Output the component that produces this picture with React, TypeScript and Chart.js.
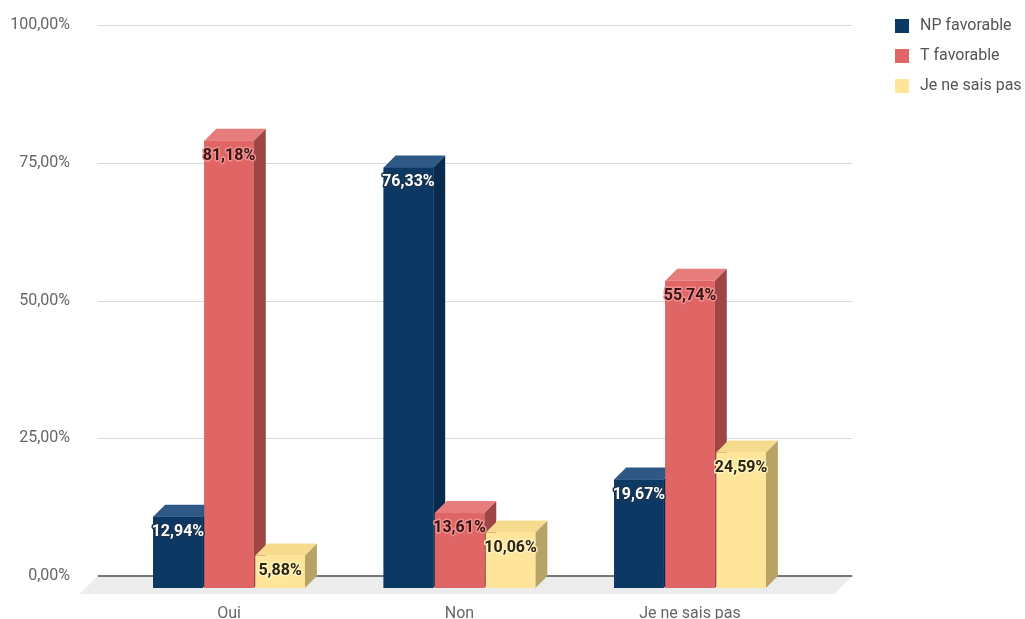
import React, { useEffect, useRef } from "react";
import { Chart, registerables } from "chart.js";

Chart.register(...registerables);

const categories = ["Oui", "Non", "Je ne sais pas"];
const seriesNames = ["NP favorable", "T favorable", "Je ne sais pas"];
const npFavorable = [12.94, 76.33, 19.67];
const tFavorable = [81.18, 13.61, 55.74];
const jeNeSaisPas = [5.88, 10.06, 24.59];
const yTickStep = 25;
const yMax = 100;

const DEPTH = 12;
const FONT = "Roboto, 'Noto Sans', Arial, sans-serif";

const palettes = [
  { front: "#0c3864", top: "#2e5986", side: "#082a4c", text: "#ffffff", halo: "#1b3452" },
  { front: "#e06666", top: "#e67c7c", side: "#9e4646", text: "#3a1414", halo: "#ee9090" },
  { front: "#ffe599", top: "#f6db8f", side: "#b8a366", text: "#2a2410", halo: "#fff2c0" },
];

const fmt = (v: number) => v.toFixed(2).replace(".", ",") + "%";

const threeD = {
  id: "threeD",
  beforeDatasetsDraw(chart: any) {
    const { ctx, chartArea } = chart;
    const y = chart.scales.y;
    const gl = chartArea.left - 28;
    const gr = chartArea.right + 35;
    const zero = y.getPixelForValue(0);
    ctx.save();
    // floor
    ctx.fillStyle = "#ececec";
    ctx.beginPath();
    ctx.moveTo(gl + DEPTH, zero - DEPTH);
    ctx.lineTo(gr + DEPTH, zero - DEPTH);
    ctx.lineTo(gr - 6, zero + 6);
    ctx.lineTo(gl - 6, zero + 6);
    ctx.closePath();
    ctx.fill();
    // grid lines on back wall
    y.ticks.forEach((t: any) => {
      if (t.value === 0) return;
      const py = Math.round(y.getPixelForValue(t.value) - DEPTH) + 0.5;
      ctx.strokeStyle = "#d9d9d9";
      ctx.lineWidth = 1;
      ctx.beginPath();
      ctx.moveTo(gl + DEPTH, py);
      ctx.lineTo(gr + DEPTH, py);
      ctx.stroke();
    });
    const pz = zero - DEPTH;
    ctx.strokeStyle = "#777777";
    ctx.lineWidth = 2;
    ctx.beginPath();
    ctx.moveTo(gl + DEPTH, pz);
    ctx.lineTo(gr + DEPTH, pz);
    ctx.stroke();
    ctx.restore();
  },
  afterDatasetsDraw(chart: any) {
    const { ctx } = chart;
    const n = chart.data.labels.length;
    ctx.save();
    for (let c = 0; c < n; c++) {
      chart.data.datasets.forEach((ds: any, di: number) => {
        const el = chart.getDatasetMeta(di).data[c];
        const p = palettes[di];
        const l = el.x - el.width / 2;
        const r = el.x + el.width / 2;
        const top = el.y;
        const bot = el.base;
        // side
        ctx.fillStyle = p.side;
        ctx.beginPath();
        ctx.moveTo(r, top);
        ctx.lineTo(r + DEPTH, top - DEPTH);
        ctx.lineTo(r + DEPTH, bot - DEPTH);
        ctx.lineTo(r, bot);
        ctx.closePath();
        ctx.fill();
        // top
        ctx.fillStyle = p.top;
        ctx.beginPath();
        ctx.moveTo(l, top);
        ctx.lineTo(l + DEPTH, top - DEPTH);
        ctx.lineTo(r + DEPTH, top - DEPTH);
        ctx.lineTo(r, top);
        ctx.closePath();
        ctx.fill();
        // front
        ctx.fillStyle = p.front;
        ctx.fillRect(l, top, r - l, bot - top);
      });
    }
    // labels
    ctx.font = `bold 16px ${FONT}`;
    ctx.textAlign = "center";
    ctx.textBaseline = "middle";
    ctx.lineJoin = "round";
    for (let c = 0; c < n; c++) {
      chart.data.datasets.forEach((ds: any, di: number) => {
        const el = chart.getDatasetMeta(di).data[c];
        const p = palettes[di];
        const txt = fmt(ds.data[c]);
        const tx = el.x;
        const ty = el.y + 15;
        ctx.strokeStyle = p.halo;
        ctx.lineWidth = 3;
        ctx.strokeText(txt, tx, ty);
        ctx.fillStyle = p.text;
        ctx.fillText(txt, tx, ty);
      });
    }
    ctx.restore();
  },
  afterDraw(chart: any) {
    const { ctx } = chart;
    ctx.save();
    ctx.font = `16px ${FONT}`;
    ctx.textBaseline = "middle";
    ctx.textAlign = "left";
    chart.data.datasets.forEach((ds: any, di: number) => {
      const cy = 26 + di * 30;
      ctx.fillStyle = palettes[di].front;
      ctx.fillRect(895, cy - 7, 14, 14);
      ctx.fillStyle = "#555555";
      ctx.fillText(ds.label, 920, cy);
    });
    ctx.restore();
  },
};

export default function App() {
  const ref = useRef<HTMLCanvasElement | null>(null);
  useEffect(() => {
    document.body.style.margin = "0";
    const canvas = ref.current;
    if (!canvas) return;
    const seriesData = [npFavorable, tFavorable, jeNeSaisPas];
    const chart = new Chart(canvas, {
      type: "bar",
      data: {
        labels: categories,
        datasets: seriesNames.map((name, i) => ({
          label: name,
          data: seriesData[i],
          backgroundColor: palettes[i].front,
          borderWidth: 0,
          barPercentage: 0.97,
          categoryPercentage: 0.665,
        })),
      },
      options: {
        responsive: false,
        animation: false,
        devicePixelRatio: 1,
        layout: { padding: { left: 0, right: 219.75, top: 37, bottom: 0 } },
        plugins: {
          legend: { display: false },
          tooltip: { enabled: false },
          title: { display: false },
        },
        scales: {
          x: {
            grid: { display: false, drawTicks: false },
            border: { display: false },
            ticks: {
              color: "#666666",
              font: { family: FONT, size: 16 },
              padding: 16,
              maxRotation: 0,
            },
            afterFit: (s: any) => {
              s.height = 31;
              s.paddingLeft = 0;
              s.paddingRight = 0;
            },
          },
          y: {
            min: 0,
            max: yMax,
            grid: { display: false, drawTicks: false },
            border: { display: false },
            ticks: {
              stepSize: yTickStep,
              color: "#666666",
              font: { family: FONT, size: 16 },
              padding: 43.75,
              labelOffset: -DEPTH,
              callback: (v: any) => fmt(Number(v)),
            },
            afterFit: (s: any) => {
              s.width = 113.75;
              s.paddingTop = 0;
              s.paddingBottom = 0;
            },
          },
        },
      },
      plugins: [threeD],
    });
    return () => chart.destroy();
  }, []);
  return (
    <div style={{ position: "absolute", left: 0, top: 0, width: 1025, height: 619 }}>
      <canvas ref={ref} width={1025} height={619} style={{ width: 1025, height: 619 }} />
    </div>
  );
}
